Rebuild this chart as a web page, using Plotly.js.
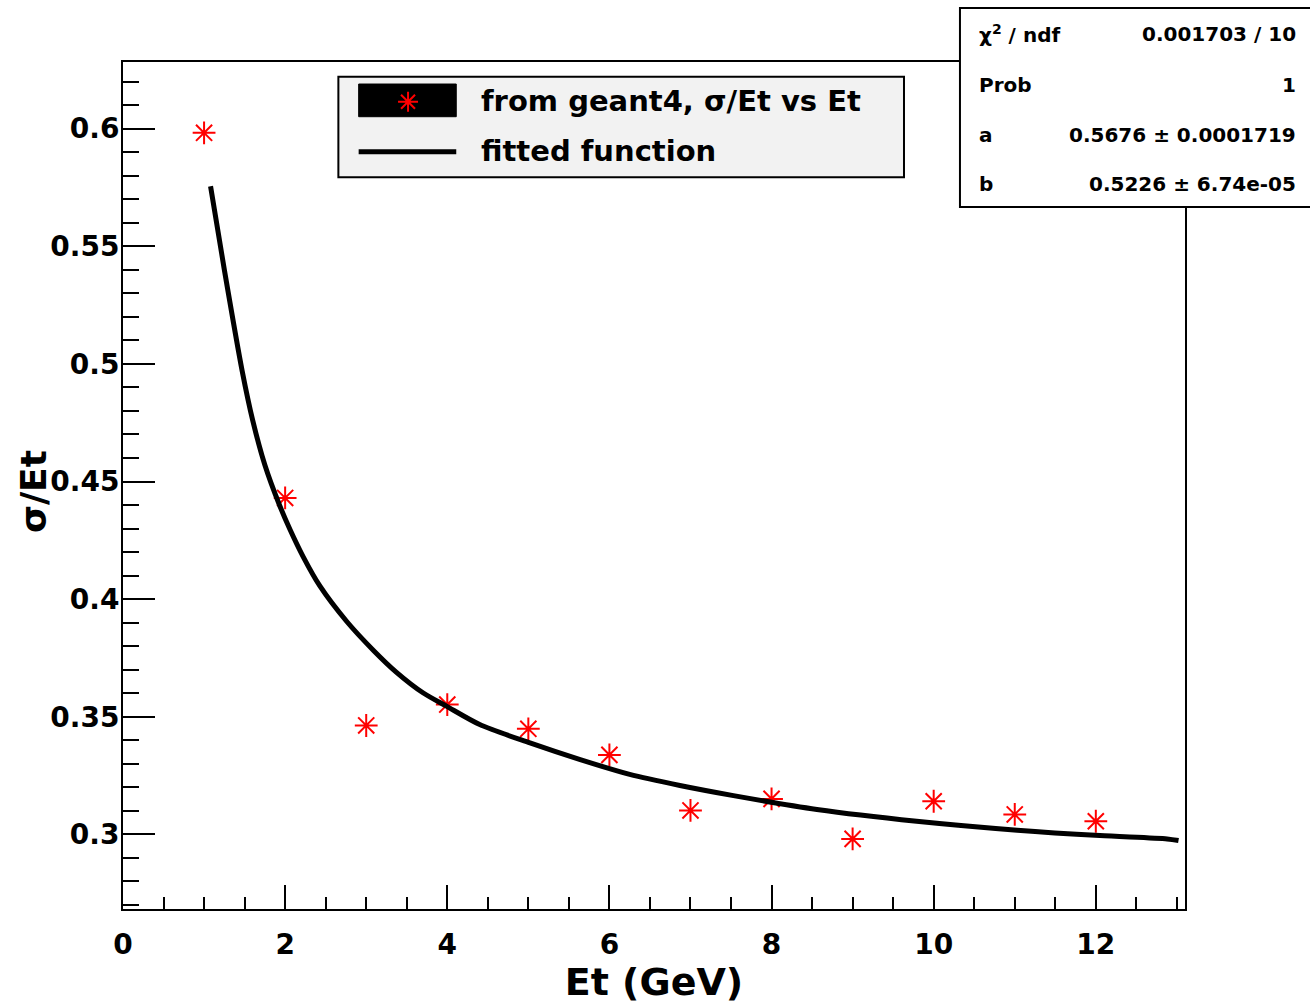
<!DOCTYPE html>
<html>
<head>
<meta charset="utf-8">
<script src="https://cdn.plot.ly/plotly-3.0.1.min.js"></script>
<style>
  html, body { margin: 0; padding: 0; background: #ffffff; }
  #chart { width: 1310px; height: 1004px; }
</style>
</head>
<body>
<div id="chart"></div>
<script>
// ---- data ----
var energy = [1, 2, 3, 4, 5, 6, 7, 8, 9, 10, 11, 12];
var sigmaOverEt = [0.5982, 0.4430, 0.3463, 0.3552, 0.3449, 0.3338, 0.3102, 0.3151, 0.2981, 0.3141, 0.3085, 0.3056];

var fitX = [1.08, 1.25, 1.47, 1.60, 1.75, 1.93, 2.06, 2.22, 2.43, 2.76, 3.09, 3.37, 3.70, 3.99, 4.40, 5.02, 5.64, 6.25, 6.87, 7.53, 8.56, 9.79, 11.03, 12.05, 12.88, 13.02];
var fitY = [0.5755, 0.5400, 0.4970, 0.4760, 0.4570, 0.4400, 0.4296, 0.4182, 0.4055, 0.3905, 0.3782, 0.3690, 0.3602, 0.3545, 0.3467, 0.3389, 0.3318, 0.3255, 0.3208, 0.3165, 0.3106, 0.3056, 0.3018, 0.2995, 0.2981, 0.2974];

var xTickVals = [0, 2, 4, 6, 8, 10, 12];
var xTickText = ["0", "2", "4", "6", "8", "10", "12"];
var yTickVals = [0.3, 0.35, 0.4, 0.45, 0.5, 0.55, 0.6];
var yTickText = ["0.3", "0.35", "0.4", "0.45", "0.5", "0.55", "0.6"];

var xTitle = "Et (GeV)";
var yTitle = "σ/Et";
var legendLabels = ["from geant4, σ/Et vs Et", "fitted function"];
var statsNames = ["χ<sup>2</sup> / ndf", "Prob", "a", "b"];
var statsValues = ["0.001703 / 10", "1", "0.5676 ± 0.0001719", "0.5226 ± 6.74e-05"];

var FONT = "DejaVu Sans, Liberation Sans, Arial, sans-serif";

var traces = [
  {
    x: energy, y: sigmaOverEt, type: "scatter", mode: "markers",
    marker: { symbol: "asterisk-open", size: 19, color: "#ff0000",
              line: { color: "#ff0000", width: 2 } },
    showlegend: false, hoverinfo: "x+y"
  },
  {
    x: fitX, y: fitY, type: "scatter", mode: "lines",
    line: { color: "#000000", width: 5, shape: "spline", smoothing: 0.8 },
    showlegend: false, hoverinfo: "x+y"
  }
];

// decorations (legend / stats box) in paper coordinates
var shapes = [
  { type: "rect", xref: "paper", yref: "paper", x0: 0.2028, x1: 0.7354, y0: 0.8639, y1: 0.9826,
    fillcolor: "#f2f2f2", line: { color: "#000000", width: 2 }, layer: "above" },
  { type: "rect", xref: "paper", yref: "paper", x0: 0.2219, x1: 0.3138, y0: 0.9354, y1: 0.9740,
    fillcolor: "#000000", line: { color: "#000000", width: 1 }, layer: "above" },
  { type: "path", xref: "paper", yref: "paper", xsizemode: "pixel", ysizemode: "pixel",
    xanchor: 0.2684, yanchor: 0.9531,
    path: "M-10,0L10,0M0,-10L0,10M-7,-7L7,7M-7,7L7,-7",
    line: { color: "#ff0000", width: 2 }, layer: "above" },
  { type: "line", xref: "paper", yref: "paper", x0: 0.2219, x1: 0.3138, y0: 0.8941, y1: 0.8941,
    line: { color: "#000000", width: 5 }, layer: "above" },
  { type: "rect", xref: "paper", yref: "paper", x0: 0.7881, x1: 1.13, y0: 0.8288, y1: 1.0638,
    fillcolor: "#ffffff", line: { color: "#000000", width: 2 }, layer: "above" }
];

var rowY = [1.0336, 0.9728, 0.9138, 0.8554];
var annotations = [
  { xref: "paper", yref: "paper", x: 0.3352, y: 0.9540, xanchor: "left", yanchor: "middle",
    text: legendLabels[0], showarrow: false,
    font: { family: FONT, size: 29, color: "#000000", weight: "bold" } },
  { xref: "paper", yref: "paper", x: 0.3352, y: 0.8949, xanchor: "left", yanchor: "middle",
    text: legendLabels[1], showarrow: false,
    font: { family: FONT, size: 29, color: "#000000", weight: "bold" } },
  // y axis title (overlaps the tick labels slightly, as in the reference)
  { xref: "paper", yref: "paper", x: -0.0847, y: 0.4923, xanchor: "center", yanchor: "middle",
    textangle: -90, text: yTitle, showarrow: false,
    font: { family: FONT, size: 36, color: "#000000", weight: "bold" } }
];
for (var i = 0; i < statsNames.length; i++) {
  annotations.push({ xref: "paper", yref: "paper", x: 0.8041, y: rowY[i], xanchor: "left", yanchor: "middle",
    text: statsNames[i], showarrow: false,
    font: { family: FONT, size: 20, color: "#000000", weight: "bold" } });
  annotations.push({ xref: "paper", yref: "paper", x: 1.1065, y: rowY[i], xanchor: "right", yanchor: "middle",
    text: statsValues[i], showarrow: false,
    font: { family: FONT, size: 20, color: "#000000", weight: "bold" } });
}

var layout = {
  width: 1310, height: 1004,
  margin: { l: 123, r: 125, t: 62, b: 95, pad: 0 },
  paper_bgcolor: "#ffffff", plot_bgcolor: "#ffffff",
  font: { family: FONT, color: "#000000", weight: "bold" },
  showlegend: false,
  xaxis: {
    range: [0, 13.1], tickmode: "array", tickvals: xTickVals, ticktext: xTickText,
    ticks: "inside", ticklen: 24, tickwidth: 2, tickcolor: "#000000",
    minor: { dtick: 0.5, tick0: 0, ticks: "inside", ticklen: 12, tickwidth: 2, tickcolor: "#000000", showgrid: false },
    showline: true, linecolor: "#000000", linewidth: 2, mirror: true,
    showgrid: false, zeroline: false, ticklabelstandoff: 9,
    tickfont: { family: FONT, size: 28, color: "#000000", weight: "bold" },
    title: { text: xTitle, standoff: 14,
             font: { family: FONT, size: 38, color: "#000000", weight: "bold" } }
  },
  yaxis: {
    range: [0.2683, 0.6283], tickmode: "array", tickvals: yTickVals, ticktext: yTickText,
    ticks: "inside", ticklen: 32, tickwidth: 2, tickcolor: "#000000",
    minor: { dtick: 0.01, tick0: 0, ticks: "inside", ticklen: 16, tickwidth: 2, tickcolor: "#000000", showgrid: false },
    showline: true, linecolor: "#000000", linewidth: 2, mirror: true,
    showgrid: false, zeroline: false, ticklabelstandoff: -4,
    tickfont: { family: FONT, size: 28, color: "#000000", weight: "bold" }
  },
  shapes: shapes,
  annotations: annotations
};

Plotly.newPlot("chart", traces, layout, { displayModeBar: false, staticPlot: true });
</script>
</body>
</html>
